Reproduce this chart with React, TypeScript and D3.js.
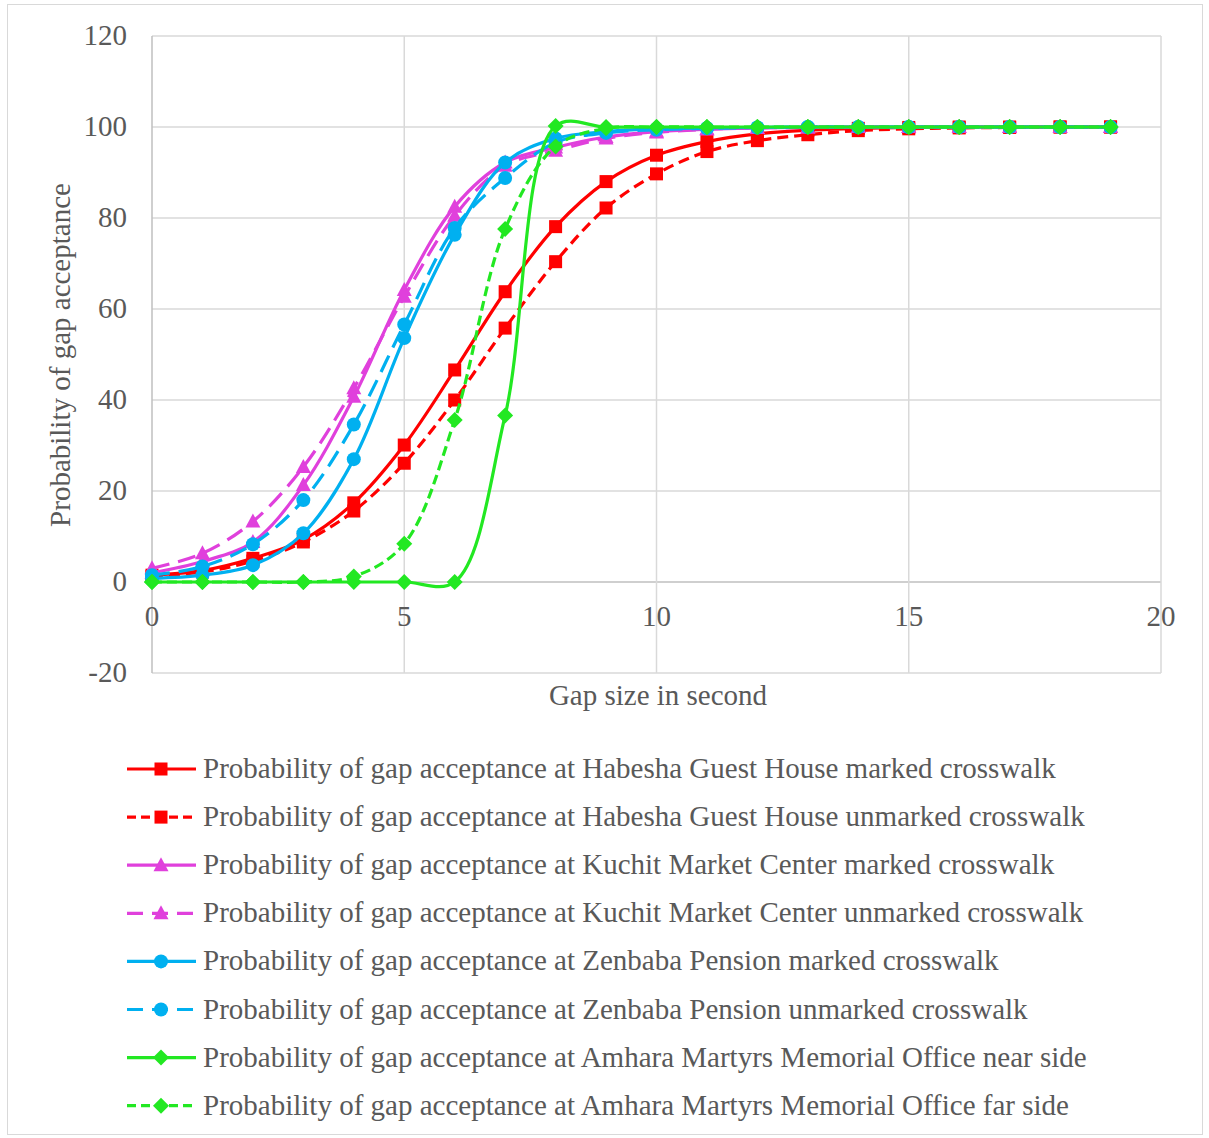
import React from "react";
import * as d3 from "d3";

const gaps = [0,1,2,3,4,5,6,7,8,9,10,11,12,13,14,15,16,17,18,19];

const habeshaMarked = [1.5,2.5,5.2,9.3,17.4,30.1,46.6,63.8,78.1,88,93.8,96.8,98.5,99.3,99.7,99.9,100,100,100,100];
const habeshaUnmarked = [1.2,2.2,4.6,8.8,15.6,26.1,40,55.8,70.4,82.2,89.7,94.6,97,98.3,99.2,99.6,99.8,99.9,100,100];
const kuchitMarked = [2,4.5,8.8,21.3,40.7,64.2,82.5,92.2,95.5,97.8,99,99.5,99.8,99.9,100,100,100,100,100,100];
const kuchitUnmarked = [3,6.3,13.3,25.3,42.6,62.7,80.5,91.5,94.8,97.5,98.8,99.5,99.8,99.9,100,100,100,100,100,100];
const zenbabaMarked = [0.8,1.5,3.7,10.7,27,53.6,76.3,92.2,97.5,99,99.6,99.8,99.9,100,100,100,100,100,100,100];
const zenbabaUnmarked = [1.5,3.4,8.3,18,34.6,56.6,77.8,88.8,96.6,98.7,99.4,99.7,99.9,100,100,100,100,100,100,100];
const amharaNear = [0,0,0,0,0,0,0,36.6,100.2,100,100,100,100,100,100,100,100,100,100,100];
const amharaFar = [0,0,0,0,1.2,8.4,35.6,77.6,95.7,99.7,100,100,100,100,100,100,100,100,100,100];

const seriesNames = [
  "Probability of gap acceptance at Habesha Guest House marked crosswalk",
  "Probability of gap acceptance at Habesha Guest House unmarked crosswalk",
  "Probability of gap acceptance at Kuchit Market Center marked crosswalk",
  "Probability of gap acceptance at Kuchit Market Center unmarked crosswalk",
  "Probability of gap acceptance at Zenbaba Pension marked crosswalk",
  "Probability of gap acceptance at Zenbaba Pension unmarked crosswalk",
  "Probability of gap acceptance at Amhara Martyrs Memorial Office near side",
  "Probability of gap acceptance at Amhara Martyrs Memorial Office far side",
];
const seriesValues = [habeshaMarked, habeshaUnmarked, kuchitMarked, kuchitUnmarked, zenbabaMarked, zenbabaUnmarked, amharaNear, amharaFar];

const xTicks = [0,5,10,15,20];
const yTicks = [-20,0,20,40,60,80,100,120];

const RED = "#ff0000";
const MAG = "#e040dc";
const BLUE = "#00b0f0";
const GREEN = "#22e822";

type Style = { color: string; dash: string | null; legendDash: string | null; marker: string };
const styles: Style[] = [
  { color: RED, dash: null, legendDash: null, marker: "square" },
  { color: RED, dash: "11,6", legendDash: "9,5", marker: "square" },
  { color: MAG, dash: null, legendDash: null, marker: "triangle" },
  { color: MAG, dash: "18,9", legendDash: "16,9", marker: "triangle" },
  { color: BLUE, dash: null, legendDash: null, marker: "circle" },
  { color: BLUE, dash: "18,9", legendDash: "16,9", marker: "circle" },
  { color: GREEN, dash: null, legendDash: null, marker: "diamond" },
  { color: GREEN, dash: "10,5", legendDash: "9,5", marker: "diamond" },
];

const FONT = "'Liberation Serif', 'Times New Roman', serif";
const TXT = "#595959";
const FS = 29;

function Marker({ kind, x, y, color }: { kind: string; x: number; y: number; color: string }) {
  if (kind === "square") return <rect x={x - 6.5} y={y - 6.5} width={13} height={13} fill={color} />;
  if (kind === "circle") return <circle cx={x} cy={y} r={7} fill={color} />;
  if (kind === "triangle") return <path d={`M${x},${y - 8}L${x + 7.5},${y + 6}L${x - 7.5},${y + 6}Z`} fill={color} />;
  return <path d={`M${x},${y - 8}L${x + 8},${y}L${x},${y + 8}L${x - 8},${y}Z`} fill={color} />;
}

export default function App() {
  const W = 1209, H = 1138;
  const x = d3.scaleLinear().domain([0, 20]).range([152, 1161]);
  const y = d3.scaleLinear().domain([-20, 120]).range([673, 36]);
  const line = d3.line<[number, number]>()
    .x(d => x(d[0]))
    .y(d => y(d[1]))
    .curve(d3.curveCatmullRom.alpha(0.5));

  const legendTop = 769;
  const legendStep = 48.1;

  return (
    <svg width={W} height={H} style={{ position: "absolute", left: 0, top: 0 }}>
      <rect x={0} y={0} width={W} height={H} fill="#fff" />
      <rect x={7.5} y={4.5} width={1195} height={1130} fill="none" stroke="#d9d9d9" strokeWidth={1} />
      {yTicks.map(t => (
        <line key={"gy" + t} x1={152} x2={1161} y1={y(t)} y2={y(t)} stroke={t === 0 ? "#bfbfbf" : "#d9d9d9"} strokeWidth={1.5} />
      ))}
      {xTicks.filter(t => t > 0).map(t => (
        <line key={"gx" + t} x1={x(t)} x2={x(t)} y1={36} y2={673} stroke="#d9d9d9" strokeWidth={1.5} />
      ))}
      <line x1={152} x2={152} y1={36} y2={673} stroke="#bfbfbf" strokeWidth={1.5} />
      {yTicks.map(t => (
        <text key={"ty" + t} x={127} y={y(t) + 9} textAnchor="end" fontFamily={FONT} fontSize={FS} fill={TXT}>{t}</text>
      ))}
      {xTicks.map(t => (
        <text key={"tx" + t} x={x(t)} y={626} textAnchor="middle" fontFamily={FONT} fontSize={FS} fill={TXT}>{t}</text>
      ))}
      <text x={658} y={705} textAnchor="middle" fontFamily={FONT} fontSize={FS} fill={TXT}>Gap size in second</text>
      <text transform={`translate(70,355) rotate(-90)`} textAnchor="middle" fontFamily={FONT} fontSize={FS} fill={TXT}>Probability of gap acceptance</text>
      {seriesValues.map((vals, i) => {
        const st = styles[i];
        const pts = gaps.map((g, j) => [g, vals[j]] as [number, number]);
        return (
          <g key={"s" + i}>
            <path d={line(pts) || ""} fill="none" stroke={st.color} strokeWidth={3.2} strokeDasharray={st.dash || undefined} strokeLinejoin="round" />
            {pts.map((p, j) => <Marker key={j} kind={st.marker} x={x(p[0])} y={y(p[1])} color={st.color} />)}
          </g>
        );
      })}
      {seriesNames.map((name, i) => {
        const st = styles[i];
        const cy = legendTop + i * legendStep;
        return (
          <g key={"l" + i}>
            <line x1={127} x2={196} y1={cy} y2={cy} stroke={st.color} strokeWidth={3.2} strokeDasharray={st.legendDash || undefined} />
            <Marker kind={st.marker} x={161} y={cy} color={st.color} />
            <text x={203} y={cy + 9} fontFamily={FONT} fontSize={FS} fill={TXT}>{name}</text>
          </g>
        );
      })}
    </svg>
  );
}
